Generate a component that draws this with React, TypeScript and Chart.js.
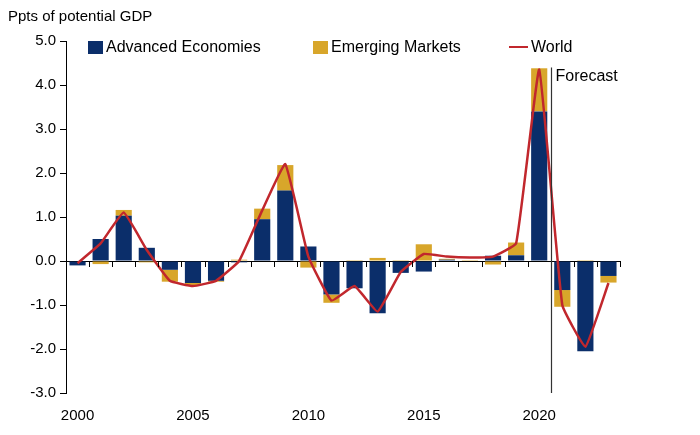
import React, { useEffect, useRef } from "react";
import { Chart, registerables } from "chart.js";
Chart.register(...registerables);

const years = Array.from({ length: 24 }, (_, i) => String(2000 + i));
const advanced = [-0.1, 0.5, 1.03, 0.3, -0.2, -0.5, -0.45, -0.03, 0.95, 1.6, 0.33, -0.76, -0.62, -1.19, -0.27, -0.24, 0.03, 0.0, 0.12, 0.13, 3.4, -0.66, -2.05, -0.34];
const emerging = [0.0, -0.07, 0.13, -0.03, -0.27, -0.05, -0.02, 0.03, 0.24, 0.58, -0.15, -0.19, 0.02, 0.07, 0.02, 0.38, 0.02, 0.02, -0.08, 0.29, 0.98, -0.38, 0.02, -0.15];
const world = [-0.05, 0.4, 1.1, 0.25, -0.45, -0.57, -0.45, 0.0, 1.15, 2.2, 0.1, -0.9, -0.57, -1.15, -0.25, 0.16, 0.1, 0.08, 0.1, 0.4, 4.35, -1.0, -1.95, -0.5];
const yTicks = [-3, -2, -1, 0, 1, 2, 3, 4, 5];
const forecastTop = 4.4;

const NAVY = "#0B2E6A";
const GOLD = "#D8A62A";
const RED = "#C1272D";
const FONT = "'Liberation Sans', Arial, sans-serif";

const extras = {
  id: "extras",
  afterDatasetsDraw(chart: any) {
    const { ctx, scales } = chart;
    const x = scales.x, y = scales.y;
    const y0 = y.getPixelForValue(0);
    ctx.save();
    ctx.strokeStyle = "#000";
    ctx.lineWidth = 1;
    const step = x.getPixelForValue(1) - x.getPixelForValue(0);
    for (let i = 0; i <= years.length; i++) {
      const px = Math.round(x.getPixelForValue(i) - step / 2) + 0.5;
      ctx.beginPath();
      ctx.moveTo(px, y0);
      ctx.lineTo(px, y0 + 6);
      ctx.stroke();
    }
    const fx = Math.round((x.getPixelForValue(20) + x.getPixelForValue(21)) / 2) + 0.5;
    ctx.strokeStyle = "#333";
    ctx.lineWidth = 1.2;
    ctx.beginPath();
    ctx.moveTo(fx, y.getPixelForValue(forecastTop));
    ctx.lineTo(fx, y.bottom);
    ctx.stroke();
    ctx.fillStyle = "#000";
    ctx.font = `16px ${FONT}`;
    ctx.textBaseline = "middle";
    ctx.fillText("Forecast", fx + 4, y.getPixelForValue(forecastTop) + 9);
    ctx.restore();
  },
};

export default function App() {
  const ref = useRef<HTMLCanvasElement>(null);
  useEffect(() => {
    document.body.style.margin = "0";
    const chart = new Chart(ref.current!, {
      type: "bar",
      data: {
        labels: years,
        datasets: [
          { type: "line", label: "World", data: world, borderColor: RED, borderWidth: 2.5, pointRadius: 0, tension: 0.1, stack: "w", order: 0 } as any,
          { label: "Advanced Economies", data: advanced, backgroundColor: NAVY, stack: "a", order: 1 },
          { label: "Emerging Markets", data: emerging, backgroundColor: GOLD, stack: "a", order: 1 },
        ],
      },
      options: {
        animation: false,
        responsive: false,
        layout: { padding: { top: 41, right: 80, left: 0, bottom: 0 } },
        plugins: { legend: { display: false }, tooltip: { enabled: false } },
        datasets: { bar: { categoryPercentage: 1, barPercentage: 0.7 } },
        scales: {
          x: {
            stacked: true,
            offset: true,
            grid: { display: false },
            border: { display: false },
            afterFit: (s: any) => { s.height = 42; },
            ticks: {
              autoSkip: false,
              maxRotation: 0,
              color: "#000",
              font: { family: FONT, size: 15 },
              padding: 6,
              callback: (v: any, i: number) => (Number(years[i]) % 5 === 0 ? years[i] : ""),
            },
          },
          y: {
            stacked: true,
            min: -3,
            max: 5,
            afterFit: (s: any) => { s.width = 66; },
            afterBuildTicks: (s: any) => { s.ticks = yTicks.map((v) => ({ value: v })); },
            border: { display: true, color: "#000", width: 1 },
            grid: {
              color: (c: any) => (c.tick && c.tick.value === 0 ? "#000" : "rgba(0,0,0,0)"),
              tickColor: "#000",
              tickLength: 6,
              drawOnChartArea: true,
            },
            ticks: {
              color: "#000",
              font: { family: FONT, size: 15 },
              padding: 4,
              callback: (v: any) => Number(v).toFixed(1),
            },
          },
        },
      },
      plugins: [extras],
    });
    return () => chart.destroy();
  }, []);

  const item = (left: number, swatch: React.ReactNode, text: string) => (
    <div style={{ position: "absolute", left, top: 38, display: "flex", alignItems: "center", font: `16px ${FONT}`, color: "#000" }}>
      {swatch}
      <span style={{ marginLeft: 3 }}>{text}</span>
    </div>
  );
  const box = (c: string) => <span style={{ display: "inline-block", width: 15, height: 13, background: c }} />;

  return (
    <div style={{ position: "relative", width: 700, height: 435, background: "#fff" }}>
      <canvas ref={ref} width={700} height={435} style={{ position: "absolute", left: 0, top: 0 }} />
      <div style={{ position: "absolute", left: 8, top: 7, font: `15px ${FONT}`, color: "#000" }}>Ppts of potential GDP</div>
      {item(88, box(NAVY), "Advanced Economies")}
      {item(313, box(GOLD), "Emerging Markets")}
      {item(509, <span style={{ display: "inline-block", width: 19, height: 2.5, background: RED }} />, "World")}
    </div>
  );
}
